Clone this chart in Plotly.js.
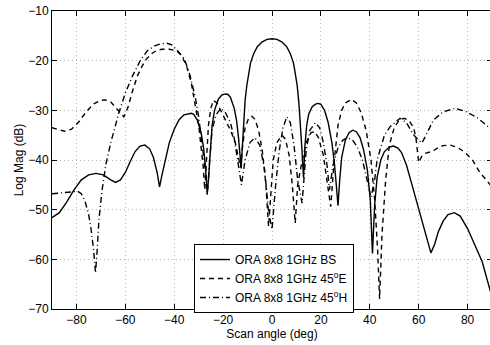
<!DOCTYPE html>
<html>
<head>
<meta charset="utf-8">
<script src="https://cdn.plot.ly/plotly-3.0.1.min.js"></script>
<style>
html,body{margin:0;padding:0;overflow:hidden;background:#fff;}
#chart{width:494px;height:345px;}
</style>
</head>
<body>
<div id="chart"></div>
<script>
// ORA 8x8 1GHz BS (solid)
const bsAngle = [-90,-87,-84,-81,-78,-75,-72,-69,-66,-64,-62,-60,-58,-56,-54,-52,-50,-48.5,-47,-46,-45,-43.5,-42,-40,-38,-36,-34,-33,-32,-30.5,-29,-28,-27.2,-26.5,-26,-25.2,-24.5,-23.5,-22,-20.5,-19,-18,-17,-15.5,-14.5,-13.7,-13,-12.6,-12.2,-11.6,-11,-10.3,-9.5,-8.8,-7.5,-6,-4,-2,0,2,4,6,7.5,8.8,9.5,10.3,11,11.6,12.2,12.9,13.5,14.2,15,16.5,18,19,20,21.5,23,24.5,25.5,26.3,27,27.7,28.5,30,31.5,33,34.5,36,37.5,39,40.2,41.1,42,43,44.5,46,48,49.7,51.5,53,55,57,59,61,63,65,66.5,68,70,72,74.6,77,80,83,86,89.2,90];
const bsMag = [-51.6,-50.6,-48.5,-46,-44,-43,-42.7,-43,-44,-44.5,-44,-42.5,-40.3,-38.3,-37.2,-37,-37.8,-39.5,-42.5,-45.4,-43,-39.5,-36.5,-33.8,-31.9,-30.9,-30.6,-30.6,-30.8,-32,-34.5,-37.5,-41.5,-47,-44,-37,-33,-30,-27.8,-26.9,-26.7,-26.8,-27.4,-29.5,-32,-35.5,-40,-41.7,-38,-32,-28,-25,-22.5,-20.5,-18.6,-17.2,-16.2,-15.7,-15.6,-15.7,-16.2,-17.2,-18.6,-20.5,-22.5,-25,-28.5,-32.5,-37.5,-43.6,-37,-33,-30.8,-29.2,-28.7,-28.6,-28.8,-30,-32.5,-36.5,-40.5,-45,-49.2,-44,-39.5,-36,-34.5,-34,-34.3,-35.5,-38,-42,-48,-58.8,-49,-43.5,-40,-38.3,-37.4,-37.2,-37.6,-38.5,-41,-44.5,-48,-51.5,-55.5,-58.7,-57,-54.5,-52.3,-51,-50.6,-51.3,-53.8,-57,-60.5,-66.2,-67.5];

// ORA 8x8 1GHz 45°E (dashed)
const eAngle = [-90,-87,-85,-82,-79,-76,-73,-70,-68,-66,-64,-62,-60.6,-59,-57,-55,-52,-49,-47,-45,-42,-39,-37,-35,-33,-31.5,-30,-29,-28.2,-27.5,-26.8,-26,-25,-24,-22.5,-21,-19,-17,-15,-13.8,-12.9,-12,-11,-9.5,-8.2,-7,-5.5,-4,-2.5,-1.4,-0.5,0.5,2,4.1,5.5,7,8.3,9.5,10.5,12,14,16,17.5,19,21,22.5,24,25.5,27,28.5,30,32.5,34.5,36.5,38.5,40.5,42,43.2,44,45,46.5,48,50,52,54,56,58,59,60,61.5,63,65.4,68,70,73,76,79,82,85,88.5,90];
const eMag = [-33.5,-34,-34.2,-33.8,-32.3,-30.3,-28.7,-28,-27.9,-28.3,-29.3,-30.5,-31.3,-29.5,-26,-23,-20,-18.5,-17.9,-17.7,-17.7,-18,-19,-21,-24.5,-28.5,-33,-37.5,-41,-46,-40,-33,-29.5,-28,-28.5,-30,-32,-34,-36.5,-39,-41.5,-37,-33.5,-31.5,-31.2,-31.8,-34,-38,-45,-53.4,-46,-40,-36.5,-35,-35.8,-39,-45,-52.7,-45,-41,-36.5,-34.5,-34.3,-35.5,-39,-44,-49.4,-40,-33,-30,-28.5,-27.8,-28.5,-30.5,-34,-40,-48,-58,-68,-55,-44,-37,-33.5,-32,-31.6,-32,-33.5,-36,-40.5,-39,-38.6,-38.3,-37.5,-37.1,-37,-37.5,-38.5,-40,-42.5,-44.5,-45.5];

// ORA 8x8 1GHz 45°H (dash-dot)
const hAngle = [-90,-86,-82,-79.5,-78,-76.5,-75,-74,-73,-72.2,-71.5,-70.8,-69.5,-68,-66,-64,-62.7,-60,-57,-53.8,-51,-48,-45.5,-43,-41,-39,-36,-34.5,-33.4,-32.3,-31.3,-30,-28.6,-27.9,-27,-26.3,-25.5,-24.5,-23,-21,-19,-17,-15.5,-14,-12.5,-11,-9,-7,-5,-3,-1.5,0,1.5,3,4.5,6.1,7.5,9,10.5,12.3,14,15.5,17.7,19.5,21,22.5,23.5,25,27,29,31,33,35,37,39,40.5,42,43,44.2,46,48.3,51,52.4,55,58,60,61.3,63,66,70,74.9,79.6,84,88.5,90];
const hMag = [-46.8,-46.6,-46.4,-46.3,-46.8,-48.3,-51,-54,-58,-62.8,-58,-52,-46,-41,-36.6,-33,-30.6,-26.5,-23,-19.9,-18,-17,-16.6,-16.5,-16.8,-17.8,-19.5,-21.5,-23.2,-25.5,-27.6,-31.3,-37.3,-40,-44,-46,-40,-34,-31,-29.6,-30.5,-32.5,-35.5,-40.5,-45,-40,-36.5,-35.5,-37,-42,-50,-54,-45,-38,-33.5,-31.3,-32.5,-37,-44,-48.7,-38,-34,-32.5,-33.5,-36.5,-41,-46,-41,-37.5,-36,-35.5,-36,-37.5,-40,-44,-47.5,-44,-40,-38,-35,-33.3,-32.3,-31.6,-32.5,-35,-36,-36.6,-35,-32,-30.3,-29.6,-30.3,-31.5,-33.3,-34];

const xTicks = [-80,-60,-40,-20,0,20,40,60,80];
const yTicks = [-70,-60,-50,-40,-30,-20,-10];

const names = ['ORA 8x8 1GHz BS','ORA 8x8 1GHz 45<sup>o</sup>E','ORA 8x8 1GHz 45<sup>o</sup>H'];

const fmt = v => String(v).replace('-', '\u2212');
const lineCommon = {color:'#000', width:1.4};
const traces = [
  {x:bsAngle, y:bsMag, mode:'lines', name:names[0], line:Object.assign({}, lineCommon, {dash:'solid'})},
  {x:eAngle, y:eMag, mode:'lines', name:names[1], line:Object.assign({}, lineCommon, {dash:'5px,4px'})},
  {x:hAngle, y:hMag, mode:'lines', name:names[2], line:Object.assign({}, lineCommon, {dash:'6px,3px,1px,3px'})}
];

const fam = '"Liberation Sans", Arial, Helvetica, sans-serif';
const fnt = {family:fam, size:12, color:'#000'};

const axCommon = {
  ticks:'inside', ticklen:5, tickcolor:'#000', tickwidth:1,
  showline:true, linecolor:'#000', linewidth:1, mirror:'ticks', zeroline:false,
  showgrid:true, gridcolor:'#b8b8b8', griddash:'1px,3px', gridwidth:1,
  tickfont:{family:fam, size:12, color:'#000'}
};

const layout = {
  width:494, height:345,
  margin:{l:52, r:2, t:11, b:36},
  paper_bgcolor:'#fff', plot_bgcolor:'#fff',
  font:fnt,
  showlegend:true,
  legend:{x:0.3227, y:0.218, xanchor:'left', yanchor:'top', bgcolor:'#fff', bordercolor:'#000', borderwidth:1,
          font:{family:fam, size:12, color:'#000'}, tracegroupgap:0, itemwidth:30},
  xaxis:Object.assign({}, axCommon, {range:[-90,90], tickvals:xTicks, ticktext:xTicks.map(fmt),
         title:{text:'Scan angle (deg)', font:{family:fam, size:12, color:'#000'}, standoff:1}}),
  yaxis:Object.assign({}, axCommon, {range:[-70,-10], tickvals:yTicks, ticktext:yTicks.map(fmt),
         title:{text:'Log Mag (dB)', font:{family:fam, size:12, color:'#000'}, standoff:2}})
};

Plotly.newPlot('chart', traces, layout, {displayModeBar:false, staticPlot:true});
</script>
</body>
</html>
